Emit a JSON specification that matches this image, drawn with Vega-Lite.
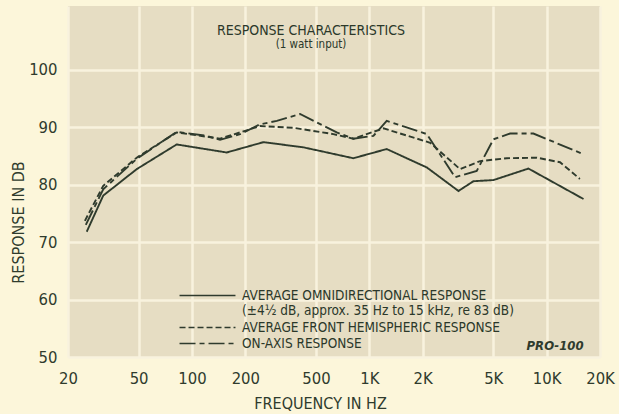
{
  "$schema": "https://vega.github.io/schema/vega-lite/v6.json",
  "width": 532,
  "height": 351,
  "autosize": {"type": "none"},
  "padding": {"left": 68, "top": 6, "right": 19, "bottom": 57},
  "background": "#fcf6da",
  "config": {
    "view": {"fill": "#e6ddc3", "stroke": null},
    "font": "Liberation Sans Narrow, DejaVu Sans Condensed, sans-serif",
    "text": {"font": "Liberation Sans Narrow, DejaVu Sans Condensed, sans-serif"}
  },
  "title": {
    "text": "RESPONSE CHARACTERISTICS",
    "subtitle": "(1 watt input)",
    "anchor": "middle",
    "frame": "group",
    "dx": -23,
    "offset": -44,
    "fontSize": 14,
    "fontWeight": "normal",
    "color": "#2b382a",
    "subtitleFontSize": 11.5,
    "subtitleColor": "#2b382a",
    "subtitlePadding": 1
  },
  "datasets": {
    "curves": [
      {"series": "AVERAGE OMNIDIRECTIONAL RESPONSE", "freq": 25.5, "db": 71.8},
      {"series": "AVERAGE OMNIDIRECTIONAL RESPONSE", "freq": 31.6, "db": 78.1},
      {"series": "AVERAGE OMNIDIRECTIONAL RESPONSE", "freq": 48.8, "db": 82.7},
      {"series": "AVERAGE OMNIDIRECTIONAL RESPONSE", "freq": 82, "db": 87.0},
      {"series": "AVERAGE OMNIDIRECTIONAL RESPONSE", "freq": 157, "db": 85.6},
      {"series": "AVERAGE OMNIDIRECTIONAL RESPONSE", "freq": 253, "db": 87.4},
      {"series": "AVERAGE OMNIDIRECTIONAL RESPONSE", "freq": 425, "db": 86.5},
      {"series": "AVERAGE OMNIDIRECTIONAL RESPONSE", "freq": 813, "db": 84.6},
      {"series": "AVERAGE OMNIDIRECTIONAL RESPONSE", "freq": 1254, "db": 86.2},
      {"series": "AVERAGE OMNIDIRECTIONAL RESPONSE", "freq": 2110, "db": 83.0},
      {"series": "AVERAGE OMNIDIRECTIONAL RESPONSE", "freq": 3184, "db": 78.9},
      {"series": "AVERAGE OMNIDIRECTIONAL RESPONSE", "freq": 3866, "db": 80.6},
      {"series": "AVERAGE OMNIDIRECTIONAL RESPONSE", "freq": 5013, "db": 80.8},
      {"series": "AVERAGE OMNIDIRECTIONAL RESPONSE", "freq": 7900, "db": 82.8},
      {"series": "AVERAGE OMNIDIRECTIONAL RESPONSE", "freq": 16150, "db": 77.5},
      {"series": "AVERAGE FRONT HEMISPHERIC RESPONSE", "freq": 24.9, "db": 73.7},
      {"series": "AVERAGE FRONT HEMISPHERIC RESPONSE", "freq": 31.6, "db": 79.8},
      {"series": "AVERAGE FRONT HEMISPHERIC RESPONSE", "freq": 48.8, "db": 84.7},
      {"series": "AVERAGE FRONT HEMISPHERIC RESPONSE", "freq": 82, "db": 89.1},
      {"series": "AVERAGE FRONT HEMISPHERIC RESPONSE", "freq": 144, "db": 88.0},
      {"series": "AVERAGE FRONT HEMISPHERIC RESPONSE", "freq": 242, "db": 90.2},
      {"series": "AVERAGE FRONT HEMISPHERIC RESPONSE", "freq": 373, "db": 89.9},
      {"series": "AVERAGE FRONT HEMISPHERIC RESPONSE", "freq": 627, "db": 88.8},
      {"series": "AVERAGE FRONT HEMISPHERIC RESPONSE", "freq": 813, "db": 88.0},
      {"series": "AVERAGE FRONT HEMISPHERIC RESPONSE", "freq": 1203, "db": 89.8},
      {"series": "AVERAGE FRONT HEMISPHERIC RESPONSE", "freq": 2204, "db": 87.3},
      {"series": "AVERAGE FRONT HEMISPHERIC RESPONSE", "freq": 3250, "db": 82.7},
      {"series": "AVERAGE FRONT HEMISPHERIC RESPONSE", "freq": 4220, "db": 84.1},
      {"series": "AVERAGE FRONT HEMISPHERIC RESPONSE", "freq": 5962, "db": 84.6},
      {"series": "AVERAGE FRONT HEMISPHERIC RESPONSE", "freq": 8800, "db": 84.7},
      {"series": "AVERAGE FRONT HEMISPHERIC RESPONSE", "freq": 11900, "db": 83.9},
      {"series": "AVERAGE FRONT HEMISPHERIC RESPONSE", "freq": 15400, "db": 81.0},
      {"series": "ON-AXIS RESPONSE", "freq": 25.2, "db": 73.0},
      {"series": "ON-AXIS RESPONSE", "freq": 31.6, "db": 79.2},
      {"series": "ON-AXIS RESPONSE", "freq": 48.8, "db": 84.5},
      {"series": "ON-AXIS RESPONSE", "freq": 82, "db": 89.2},
      {"series": "ON-AXIS RESPONSE", "freq": 121, "db": 88.5},
      {"series": "ON-AXIS RESPONSE", "freq": 144, "db": 87.8},
      {"series": "ON-AXIS RESPONSE", "freq": 187, "db": 88.8},
      {"series": "ON-AXIS RESPONSE", "freq": 242, "db": 90.5},
      {"series": "ON-AXIS RESPONSE", "freq": 301, "db": 91.1},
      {"series": "ON-AXIS RESPONSE", "freq": 407, "db": 92.3},
      {"series": "ON-AXIS RESPONSE", "freq": 655, "db": 89.1},
      {"series": "ON-AXIS RESPONSE", "freq": 813, "db": 88.0},
      {"series": "ON-AXIS RESPONSE", "freq": 1055, "db": 88.5},
      {"series": "ON-AXIS RESPONSE", "freq": 1254, "db": 91.1},
      {"series": "ON-AXIS RESPONSE", "freq": 2110, "db": 88.8},
      {"series": "ON-AXIS RESPONSE", "freq": 3048, "db": 81.3},
      {"series": "ON-AXIS RESPONSE", "freq": 4036, "db": 82.4},
      {"series": "ON-AXIS RESPONSE", "freq": 5013, "db": 87.9},
      {"series": "ON-AXIS RESPONSE", "freq": 6226, "db": 88.9},
      {"series": "ON-AXIS RESPONSE", "freq": 8424, "db": 88.9},
      {"series": "ON-AXIS RESPONSE", "freq": 16150, "db": 85.3}
    ],
    "notes": [
      {"label": "PRO-100", "freq": 11160, "db": 51.9}
    ]
  },
  "encoding": {
    "x": {
      "field": "freq",
      "type": "quantitative",
      "scale": {"type": "log", "domain": [20, 20000]},
      "axis": {
        "values": [20, 50, 100, 200, 500, 1000, 2000, 5000, 10000, 20000],
        "labelExpr": "datum.value >= 1000 ? format(datum.value / 1000, 'd') + 'K' : format(datum.value, 'd')",
        "title": "FREQUENCY IN HZ",
        "domain": false,
        "ticks": false,
        "grid": true,
        "gridColor": "#f8f2de",
        "gridWidth": 2.5,
        "labelFontSize": 16.5,
        "labelPadding": 13,
        "labelColor": "#2f3b2d",
        "labelFlush": false,
        "labelOverlap": false,
        "titleFontSize": 16,
        "titleFontWeight": "normal",
        "titleColor": "#2f3b2d",
        "titleX": 252,
        "titleY": 46,
        "titleAlign": "center",
        "titleBaseline": "middle"
      }
    },
    "y": {
      "field": "db",
      "type": "quantitative",
      "scale": {"domain": [50, 111.1], "nice": false},
      "axis": {
        "values": [50, 60, 70, 80, 90, 100],
        "title": "RESPONSE IN DB",
        "domain": false,
        "ticks": false,
        "grid": true,
        "gridColor": "#f8f2de",
        "gridWidth": 2.5,
        "labelFontSize": 16.5,
        "labelPadding": 11,
        "labelColor": "#2f3b2d",
        "labelFlush": false,
        "labelOverlap": false,
        "titleFontSize": 16,
        "titleFontWeight": "normal",
        "titleColor": "#2f3b2d",
        "titleX": -50,
        "titleY": 216,
        "titleAlign": "center",
        "titleBaseline": "middle"
      }
    }
  },
  "layer": [
    {
      "data": {"name": "curves"},
      "mark": {"type": "line", "strokeWidth": 1.9, "color": "#2f3b2d"},
      "encoding": {
        "strokeDash": {
          "field": "series",
          "type": "nominal",
          "scale": {
            "domain": ["AVERAGE OMNIDIRECTIONAL RESPONSE", "AVERAGE FRONT HEMISPHERIC RESPONSE", "ON-AXIS RESPONSE"],
            "range": [[1, 0], [6, 3], [16, 4, 5, 4]]
          },
          "legend": {
            "orient": "none",
            "legendX": 131,
            "legendY": 281,
            "title": null,
            "symbolType": "M -3.73 0 H 3.73",
            "symbolSize": 225,
            "symbolStrokeWidth": 1.6,
            "symbolStrokeColor": "#2f3b2d",
            "labelFontSize": 13.5,
            "labelColor": "#2b382a",
            "labelOffset": 26,
            "labelLimit": 400,
            "rowPadding": 1,
            "labelExpr": "datum.label == 'AVERAGE OMNIDIRECTIONAL RESPONSE' ? ['AVERAGE OMNIDIRECTIONAL RESPONSE', '(±4½ dB, approx. 35 Hz to 15 kHz, re 83 dB)'] : datum.label"
          }
        }
      }
    },
    {
      "data": {"name": "notes"},
      "mark": {"type": "text", "fontStyle": "italic", "fontWeight": "bold", "fontSize": 13, "color": "#2f3b2d", "align": "center", "baseline": "middle"},
      "encoding": {
        "text": {"field": "label"}
      }
    }
  ]
}
